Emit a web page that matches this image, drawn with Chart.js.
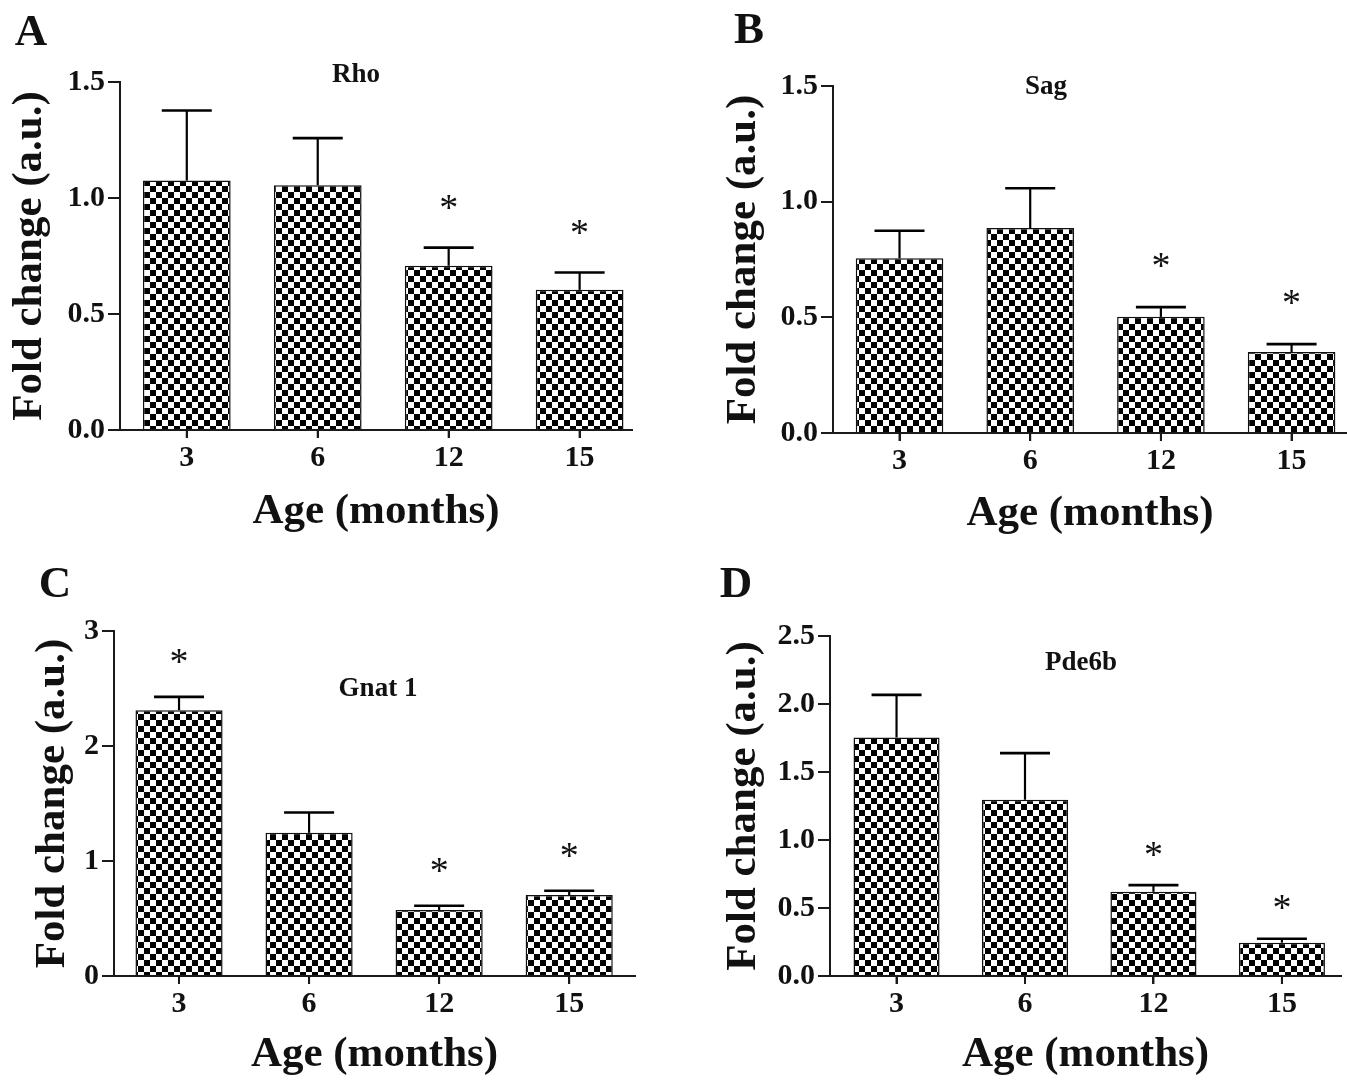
<!DOCTYPE html>
<html><head><meta charset="utf-8">
<script src="https://cdn.jsdelivr.net/npm/chart.js@4"></script>
<style>
html,body{margin:0;padding:0;background:#fff;}
#wrap{position:relative;width:1347px;height:1081px;overflow:hidden;background:#fff;}
canvas{position:absolute;display:block;}
</style></head>
<body><div id="wrap">
<canvas id="cA" width="673" height="540" style="left:0;top:0"></canvas>
<canvas id="cB" width="674" height="540" style="left:673px;top:0"></canvas>
<canvas id="cC" width="673" height="541" style="left:0;top:540px"></canvas>
<canvas id="cD" width="674" height="541" style="left:673px;top:540px"></canvas>
</div>
<script>
// ---- data ----
const ageLabels = ['3', '6', '12', '15'];
const xTitle = 'Age (months)';
const yTitle = 'Fold change (a.u.)';

const rhoMean = [1.075, 1.055, 0.708, 0.604];
const rhoSem  = [0.302, 0.203, 0.078, 0.075];
const rhoStar = [0, 0, 1, 1];

const sagMean = [0.755, 0.886, 0.502, 0.350];
const sagSem  = [0.119, 0.172, 0.042, 0.034];
const sagStar = [0, 0, 1, 1];

const gnatMean = [2.311, 1.245, 0.573, 0.704];
const gnatSem  = [0.116, 0.177, 0.038, 0.037];
const gnatStar = [1, 0, 1, 1];

const pdeMean = [1.754, 1.296, 0.619, 0.245];
const pdeSem  = [0.313, 0.343, 0.049, 0.029];
const pdeStar = [0, 0, 1, 1];

// ---- styling / layout ----
const FONT = "'Liberation Serif','Times New Roman',serif";
Chart.defaults.font.family = FONT;
Chart.defaults.font.weight = 'bold';
Chart.defaults.color = '#111';

const panels = [
  {id:'cA', letter:'A', gene:'Rho', mean:rhoMean, sem:rhoSem, star:rhoStar,
   yMax:1.5, step:0.5, dec:1, xMin:-0.51, xMax:3.40,
   box:{l:0,t:0,w:673,h:540}, area:{l:120,t:82,r:632,b:430},
   yPad:4, xPad:2, letterPos:[31,30], genePos:[356,72], starGap:45},
  {id:'cB', letter:'B', gene:'Sag', mean:sagMean, sem:sagSem, star:sagStar,
   yMax:1.5, step:0.5, dec:1, xMin:-0.509, xMax:3.424,
   box:{l:673,t:0,w:674,h:540}, area:{l:833,t:86,r:1347,b:433},
   yPad:45, xPad:0, letterPos:[749,28], genePos:[1046,88], starGap:47},
  {id:'cC', letter:'C', gene:'Gnat 1', mean:gnatMean, sem:gnatSem, star:gnatStar,
   yMax:3, step:1, dec:0, xMin:-0.5, xMax:3.506,
   box:{l:0,t:540,w:673,h:541}, area:{l:114,t:631,r:635,b:976},
   yPad:27, xPad:0, letterPos:[55,582], genePos:[378,687], starGap:40},
  {id:'cD', letter:'D', gene:'Pde6b', mean:pdeMean, sem:pdeSem, star:pdeStar,
   yMax:2.5, step:0.5, dec:1, xMin:-0.518, xMax:3.46,
   box:{l:673,t:540,w:674,h:541}, area:{l:830,t:636,r:1341,b:976},
   yPad:45, xPad:0, letterPos:[736,582], genePos:[1081,660], starGap:36}
];

function drawCentered(ctx, text, cx, cy, size, weight) {
  ctx.font = (weight || 'bold') + ' ' + size + 'px ' + FONT;
  ctx.textAlign = 'center';
  ctx.textBaseline = 'alphabetic';
  const m = ctx.measureText(text);
  const asc = m.actualBoundingBoxAscent, desc = m.actualBoundingBoxDescent;
  ctx.fillText(text, cx, cy + (asc - desc) / 2);
}

function makePattern(ctx) {
  const c = document.createElement('canvas');
  c.width = 12; c.height = 12;
  const g = c.getContext('2d');
  g.fillStyle = '#fff'; g.fillRect(0, 0, 12, 12);
  g.fillStyle = '#000'; g.fillRect(0, 0, 6, 6); g.fillRect(6, 6, 6, 6);
  return ctx.createPattern(c, 'repeat');
}

panels.forEach(p => {
  const canvas = document.getElementById(p.id);
  const ctx = canvas.getContext('2d');
  const pattern = makePattern(ctx);
  const borderOpts = {display:true, color:'#1a1a1a', width:2};

  const annot = {
    id: 'annot' + p.id,
    afterDatasetsDraw(chart) {
      const c = chart.ctx;
      const ys = chart.scales.y;
      const meta = chart.getDatasetMeta(0);
      c.save();
      c.strokeStyle = '#000';
      c.fillStyle = '#111';
      meta.data.forEach((bar, i) => {
        const top = ys.getPixelForValue(p.mean[i] + p.sem[i]);
        c.lineWidth = 2.2;
        c.beginPath();
        c.moveTo(bar.x, bar.y); c.lineTo(bar.x, top);
        c.stroke();
        c.lineWidth = 2.6;
        c.beginPath();
        c.moveTo(bar.x - 25, top); c.lineTo(bar.x + 25, top);
        c.stroke();
        if (p.star[i]) drawCentered(c, '*', bar.x, top - p.starGap, 38, 'normal');
      });
      c.restore();
    },
    afterDraw(chart) {
      const c = chart.ctx;
      const xs = chart.scales.x;
      const bottom = chart.chartArea.bottom;
      c.save();
      // x-axis tick marks at the bar centres
      c.strokeStyle = '#1a1a1a';
      c.lineWidth = 2;
      xs.ticks.forEach((t) => {
        const px = xs.getPixelForValue(t.value);
        c.beginPath();
        c.moveTo(px, bottom);
        c.lineTo(px, bottom + 8);
        c.stroke();
      });
      c.fillStyle = '#111';
      drawCentered(c, p.letter, p.letterPos[0] - p.box.l, p.letterPos[1] - p.box.t, 45);
      drawCentered(c, p.gene, p.genePos[0] - p.box.l, p.genePos[1] - p.box.t, 27);
      c.restore();
    }
  };

  new Chart(ctx, {
    type: 'bar',
    data: {
      datasets: [{
        data: p.mean.map((v, i) => ({x: i, y: v})),
        backgroundColor: pattern,
        borderColor: '#111',
        borderWidth: 1.5,
        borderSkipped: 'bottom',
        categoryPercentage: 1,
        barPercentage: 0.67
      }]
    },
    options: {
      responsive: false,
      devicePixelRatio: 1,
      animation: false,
      layout: {padding: {top: p.area.t - p.box.t, right: p.box.l + p.box.w - p.area.r, left: 0, bottom: 0}},
      plugins: {legend: {display: false}, tooltip: {enabled: false}, title: {display: false}},
      scales: {
        x: {
          type: 'linear', min: p.xMin, max: p.xMax, offset: false,
          afterBuildTicks: s => { s.ticks = ageLabels.map((_, i) => ({value: i})); },
          afterFit: s => { s.height = p.box.t + p.box.h - p.area.b; },
          ticks: {callback: v => (ageLabels[v] !== undefined ? ageLabels[v] : ''), font: {size: 30}, padding: 2, maxRotation: 0, autoSkip: false, color: '#111'},
          grid: {display:true, offset:false, drawOnChartArea:false, drawTicks:true, tickLength:8, color:'#1a1a1a', lineWidth:2},
          border: borderOpts,
          title: {display: true, text: xTitle, font: {size: 43}, padding: {top: 0, bottom: p.xPad}, color: '#111'}
        },
        y: {
          min: 0, max: p.yMax,
          afterFit: s => { s.width = p.area.l - p.box.l; },
          ticks: {stepSize: p.step, callback: v => Number(v).toFixed(p.dec), font: {size: 30}, padding: 3, color: '#111'},
          grid: {display:true, offset:false, drawOnChartArea:false, drawTicks:true, tickLength:12, color:'#1a1a1a', lineWidth:2},
          border: borderOpts,
          title: {display: true, text: yTitle, font: {size: 43}, padding: {top: p.yPad, bottom: 0}, color: '#111'}
        }
      }
    },
    plugins: [annot]
  });
});
</script>
</body></html>
